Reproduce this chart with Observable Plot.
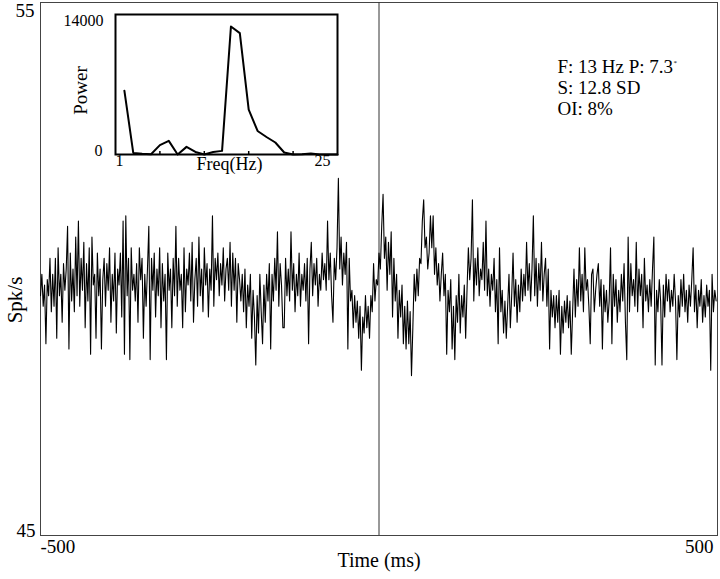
<!DOCTYPE html>
<html><head><meta charset="utf-8">
<script src="https://cdn.jsdelivr.net/npm/d3@7"></script>
<script src="https://cdn.jsdelivr.net/npm/@observablehq/plot@0.6"></script>
<style>
body{margin:0;background:#fff;}
#wrap{position:relative;width:720px;height:579px;overflow:hidden;}
#inset{position:absolute;left:60px;top:0;}
</style></head><body>
<div id="wrap"><div id="main"></div><div id="inset"></div></div>
<script>
// Peri-event firing rate, 2 ms bins from -500 ms
const binStartMs = -500;
const binWidthMs = 2;
const rate = [
49.5,49.9,49.3,49.7,48.6,49.8,49.5,50.2,49.2,49.9,
49.3,50.2,48.7,50.4,49.5,49.9,49.0,50.1,49.6,50.0,
50.8,48.5,50.3,49.4,50.0,49.2,50.6,49.5,50.9,49.3,
50.2,49.6,50.5,48.9,50.1,49.4,50.4,48.4,50.6,49.7,
49.9,48.7,50.3,49.5,50.0,48.5,49.8,50.2,49.3,50.1,
49.6,50.4,49.0,49.9,49.4,50.3,48.8,50.0,49.7,50.3,
49.1,50.9,48.4,51.0,49.5,50.2,48.3,50.4,49.6,49.9,
49.4,50.1,49.0,50.4,49.8,50.2,48.7,49.9,49.3,50.0,
50.8,48.3,50.2,49.6,50.3,49.1,50.0,49.5,50.4,48.9,
50.1,49.4,49.9,48.3,50.3,49.6,50.0,48.9,50.2,49.5,
50.8,49.3,50.2,49.6,49.9,48.9,50.4,49.2,50.0,49.7,
50.3,49.4,50.5,49.0,49.8,50.2,49.3,50.6,49.5,50.0,
49.2,50.4,49.7,50.1,49.1,50.0,49.6,51.0,49.3,50.2,
49.8,50.3,49.5,50.1,49.7,50.4,49.4,50.0,50.2,49.6,
50.5,49.3,50.3,49.6,50.2,49.0,50.1,49.8,49.4,49.9,
49.2,50.0,48.9,49.7,49.3,49.9,48.7,49.6,49.1,48.2,
49.5,48.8,49.9,49.2,48.6,49.7,49.0,49.9,49.4,50.1,
48.5,49.9,49.4,50.2,49.6,50.7,49.3,50.1,49.7,48.9,
48.9,50.2,49.5,50.0,49.4,50.7,49.6,50.1,49.2,49.9,
49.5,50.3,49.3,49.9,49.6,50.1,49.4,50.2,48.6,50.0,
50.5,49.5,50.1,49.7,50.2,49.3,49.9,49.6,50.3,49.8,
50.1,49.6,50.9,49.8,50.3,49.5,49.0,50.2,49.8,50.4,
51.7,50.0,50.6,49.7,50.3,49.9,50.5,48.5,50.2,49.4,
49.6,48.9,49.5,49.0,49.4,48.7,49.3,48.1,49.1,48.8,
49.5,48.9,49.3,48.7,49.5,49.2,50.1,49.4,49.8,49.7,
50.3,50.0,50.8,51.4,50.2,50.6,49.6,50.5,49.9,50.7,
49.1,50.2,49.4,49.9,48.7,49.6,49.1,49.7,48.6,49.3,
48.5,49.4,48.6,49.2,48.0,48.9,49.9,49.4,50.0,49.5,
50.2,50.1,50.9,51.3,50.4,50.6,50.0,50.3,51.0,50.4,
51.0,49.9,50.4,49.7,50.1,49.4,49.9,50.3,49.5,49.9,
48.4,49.6,49.2,49.8,48.5,49.3,48.3,49.5,49.0,49.9,
48.8,49.5,49.1,49.7,48.7,49.6,50.4,49.8,50.2,51.3,
49.4,50.2,49.7,50.4,49.5,50.0,49.8,50.5,49.6,50.9,
49.5,50.0,49.3,49.9,49.6,50.2,49.2,49.8,48.6,50.4,
49.2,49.6,48.8,49.4,48.7,49.3,49.9,48.9,49.5,50.3,
49.3,49.8,49.0,49.7,49.2,50.0,49.4,49.9,49.5,50.5,
49.6,50.1,49.4,50.0,51.0,49.5,50.2,49.3,50.1,49.6,
50.5,49.4,49.9,50.2,49.3,50.0,48.5,49.6,49.1,49.5,
48.9,49.5,49.0,49.6,48.4,49.3,48.8,49.4,49.0,49.5,
48.9,49.4,48.4,49.2,50.0,49.1,49.8,49.3,50.4,49.4,
49.9,49.2,50.4,49.6,49.8,49.3,48.6,49.9,50.0,49.2,
49.6,49.9,50.1,49.3,49.8,48.5,49.7,49.2,49.6,49.0,
49.4,50.4,48.6,49.9,49.3,49.8,49.0,49.6,49.2,49.9,
49.4,50.1,49.0,48.3,50.6,49.2,50.1,49.5,49.8,49.3,
50.5,49.2,50.0,49.5,49.9,48.9,50.2,49.4,49.7,49.2,
49.8,49.3,50.0,50.6,48.2,49.6,49.2,49.8,49.4,48.2,
49.7,49.1,49.9,49.4,49.8,49.2,49.6,49.3,49.9,49.4,
48.3,49.5,49.1,49.8,49.3,49.9,49.2,49.6,49.0,49.7,
49.3,49.8,50.4,49.2,49.7,48.9,49.6,49.3,49.8,49.0,
49.5,49.1,49.7,49.3,49.6,48.1,49.9,49.2,49.6,49.4
];
const xTickValues = [-500, 500];
const yTickValues = [45, 55];
const xLabel = "Time (ms)";
const yLabel = "Spk/s";
const statsLines = ["F: 13 Hz P: 7.3", "S: 12.8 SD", "OI: 8%"];
const statsMark = "*";

// Inset power spectrum
const freqHz = [1,2,3,4,5,6,7,8,9,10,11,12,13,14,15,16,17,18,19,20,21,22,23,24,25];
const power = [6700,170,80,30,980,1430,0,800,270,0,270,380,13440,12740,4720,2470,1840,1260,210,0,30,100,0,0,0];
const insetXTicks = [5,10,15,20];
const insetXLabels = [1, 25];
const insetYLabels = [0, 14000];
const insetXLabel = "Freq(Hz)";
const insetYLabel = "Power";

const series = rate.map((v, i) => ({t: binStartMs + i * binWidthMs, v}));
const spectrum = freqHz.map((f, i) => ({f, p: power[i]}));

const serif = "'Liberation Serif', 'Times New Roman', Times, serif";

const main = Plot.plot({
  width: 720, height: 579,
  marginTop: 2, marginBottom: 44, marginLeft: 40, marginRight: 3,
  x: {domain: [-500, 500], axis: null},
  y: {domain: [45, 55], axis: null},
  style: {fontFamily: serif, fontSize: "19px", background: "#fff", color: "#000"},
  marks: [
    Plot.frame({stroke: "#444", strokeWidth: 1}),
    Plot.ruleX([0], {stroke: "#333", strokeWidth: 1}),
    Plot.line(series, {x: "t", y: "v", stroke: "#000", strokeWidth: 1.1}),
    Plot.text([xTickValues[0]], {x: d => d, text: d => String(d), frameAnchor: "bottom", textAnchor: "start", fontSize: 19, dy: 17}),
    Plot.text([xTickValues[1]], {x: d => d, text: d => String(d), frameAnchor: "bottom", textAnchor: "end", fontSize: 19, dx: -4, dy: 17}),
    Plot.text([yTickValues[1]], {y: d => d, text: d => String(d), frameAnchor: "left", textAnchor: "end", fontSize: 19, dx: -6, dy: 8}),
    Plot.text([yTickValues[0]], {y: d => d, text: d => String(d), frameAnchor: "left", textAnchor: "end", fontSize: 19, dx: -5, dy: -5}),
    Plot.text([xLabel], {text: d => d, frameAnchor: "bottom", fontSize: 20, dy: 31}),
    Plot.text([yLabel], {text: d => d, frameAnchor: "left", textAnchor: "middle", rotate: -90, fontSize: 21, dx: -25, dy: 31}),
    Plot.text([statsLines.join("\n")], {text: d => d, frameAnchor: "top-left", textAnchor: "start", lineAnchor: "top", lineHeight: 1.12, fontSize: 19, dx: 517, dy: 55}),
    Plot.text([statsMark], {text: d => d, frameAnchor: "top-left", textAnchor: "start", fontSize: 7, dx: 633, dy: 58})
  ]
});
document.getElementById("main").appendChild(main);

const inset = Plot.plot({
  width: 285, height: 185,
  marginLeft: 55, marginRight: 8, marginTop: 14, marginBottom: 31,
  x: {domain: [0, 25], axis: null},
  y: {domain: [0, 14700], axis: null},
  style: {fontFamily: serif, fontSize: "16px", background: "transparent", color: "#000", overflow: "visible"},
  marks: [
    Plot.frame({fill: "#fff", stroke: "#000", strokeWidth: 2}),
    Plot.ruleX(insetXTicks, {insetTop: 137, stroke: "#000", strokeWidth: 1.5}),
    Plot.line(spectrum, {x: "f", y: "p", stroke: "#000", strokeWidth: 2}),
    Plot.text([insetYLabels[1]], {y: d => d, text: d => String(d), frameAnchor: "left", textAnchor: "end", dx: -12}),
    Plot.text([insetYLabels[0]], {y: d => d, text: d => String(d), frameAnchor: "left", textAnchor: "end", dx: -13, dy: -4}),
    Plot.text([insetXLabels[0]], {x: d => d, text: d => String(d), frameAnchor: "bottom", dx: -5, dy: 11}),
    Plot.text([insetXLabels[1]], {x: d => d, text: d => String(d), frameAnchor: "bottom", textAnchor: "end", dx: -7, dy: 11}),
    Plot.text([insetXLabel], {text: d => d, frameAnchor: "bottom", fontSize: 18, dx: 3, dy: 15}),
    Plot.text([insetYLabel], {text: d => d, frameAnchor: "left", textAnchor: "middle", rotate: -90, fontSize: 19, dx: -35, dy: 6})
  ]
});
document.getElementById("inset").appendChild(inset);
</script>
</body></html>
